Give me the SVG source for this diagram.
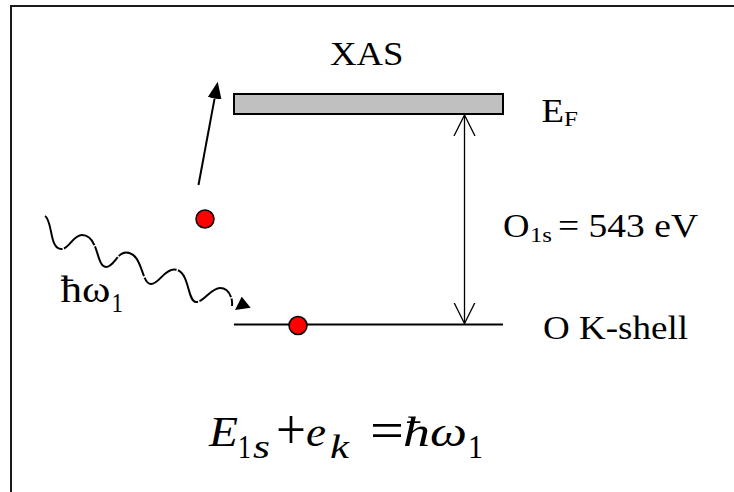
<svg xmlns="http://www.w3.org/2000/svg" width="734" height="492" viewBox="0 0 734 492">
  <style>
    text { font-family: 'Liberation Serif', Tinos, 'Nimbus Roman', FreeSerif, 'Noto Serif', 'DejaVu Serif', serif; fill: #000; }
    .it { font-style: italic; }
    .dot { fill: #ff0000; stroke: #000; stroke-width: 1.5; }
    .ln { stroke: #000; fill: none; }
  </style>
  <defs>
    <marker id="fillhead" markerUnits="userSpaceOnUse" viewBox="0 0 17 14" markerWidth="17" markerHeight="14" refX="0" refY="7" orient="auto">
      <path d="M0,0 L17,7 L0,14 Z" fill="#000"/>
    </marker>
    <marker id="openhead" markerUnits="userSpaceOnUse" viewBox="0 0 22 24" markerWidth="22" markerHeight="24" refX="21" refY="12" orient="auto-start-reverse">
      <path d="M0,1.5 L21,12 L0,22.5" fill="none" stroke="#000" stroke-width="1.3"/>
    </marker>
  </defs>
  <rect width="734" height="492" fill="#fff"/>
  <rect id="frame" x="11" y="6" width="740" height="500" fill="none" stroke="#1a1a1a" stroke-width="2"/>

  <g id="fermi-band">
    <rect x="234" y="94" width="269" height="20" fill="#c0c0c0" stroke="#000" stroke-width="2"/>
  </g>
  <g id="k-shell">
    <line class="ln" x1="234" y1="324.5" x2="503" y2="324.5" stroke-width="2"/>
  </g>
  <g id="electron-free">
    <circle class="dot" cx="205" cy="219" r="9"/>
  </g>
  <g id="electron-core">
    <circle class="dot" cx="298" cy="325.5" r="9"/>
  </g>

  <g id="connectors">
    <line class="ln" x1="198.5" y1="185" x2="214.6" y2="98.4" stroke-width="2" marker-end="url(#fillhead)"/>
    <line class="ln" x1="464.5" y1="115" x2="464.5" y2="323.5" stroke-width="1.3" marker-start="url(#openhead)" marker-end="url(#openhead)"/>
    <path class="ln" stroke-width="2" stroke-dasharray="40 1.5" d="M45,216 C53,221 49,250 62,249 C70,248 73,235 82,235 C99,235 96,267 106,267 C114,267 117,252.5 126,252.5 C143,252.5 141,284 151,284 C159,284 164,269.5 174,269.5 C190,269.5 187,302 196,302 C204,302 211,288 220,288 C228,288 233,297 232,306"/>
    <polygon points="235,310 250.7,307.7 241.7,296.7" fill="#000"/>
  </g>

  <g id="label-xas">
    <text x="330" y="65" font-size="34" textLength="73.5" lengthAdjust="spacingAndGlyphs">XAS</text>
  </g>
  <g id="label-ef">
    <text x="541.5" y="121.7" font-size="34" textLength="22.5" lengthAdjust="spacingAndGlyphs">E</text>
    <text x="564" y="125.5" font-size="22" textLength="14" lengthAdjust="spacingAndGlyphs">F</text>
  </g>
  <g id="label-o1s">
    <text x="503" y="237" font-size="34" textLength="26.5" lengthAdjust="spacingAndGlyphs">O</text>
    <text x="530" y="242" font-size="22" textLength="22" lengthAdjust="spacingAndGlyphs">1s</text>
    <text x="558" y="237" font-size="34" textLength="140" lengthAdjust="spacingAndGlyphs">= 543 eV</text>
  </g>
  <g id="label-kshell">
    <text x="543" y="339.3" font-size="34" textLength="145" lengthAdjust="spacingAndGlyphs">O K-shell</text>
  </g>
  <g id="label-photon">
    <text x="60.5" y="301.7" font-size="38" textLength="50" lengthAdjust="spacingAndGlyphs">ħω</text>
    <text x="111.5" y="311.7" font-size="28" textLength="11.5" lengthAdjust="spacingAndGlyphs">1</text>
  </g>
  <g id="equation">
    <text class="it" x="209" y="446" font-size="43" textLength="29" lengthAdjust="spacingAndGlyphs">E</text>
    <text x="238" y="458" font-size="33" textLength="13" lengthAdjust="spacingAndGlyphs">1</text>
    <text class="it" x="253" y="458" font-size="33" textLength="17" lengthAdjust="spacingAndGlyphs">s</text>
    <text x="276" y="449" font-size="56" textLength="30" lengthAdjust="spacingAndGlyphs">+</text>
    <text class="it" x="306" y="446" font-size="43" textLength="20" lengthAdjust="spacingAndGlyphs">e</text>
    <text class="it" x="330" y="458" font-size="33" textLength="19" lengthAdjust="spacingAndGlyphs">k</text>
    <text x="370" y="448" font-size="52" textLength="34" lengthAdjust="spacingAndGlyphs">=</text>
    <text class="it" x="403" y="446" font-size="43" textLength="27" lengthAdjust="spacingAndGlyphs">ħ</text>
    <text class="it" x="430" y="446" font-size="43" textLength="37" lengthAdjust="spacingAndGlyphs">ω</text>
    <text x="468" y="458" font-size="33" textLength="15" lengthAdjust="spacingAndGlyphs">1</text>
  </g>
</svg>
